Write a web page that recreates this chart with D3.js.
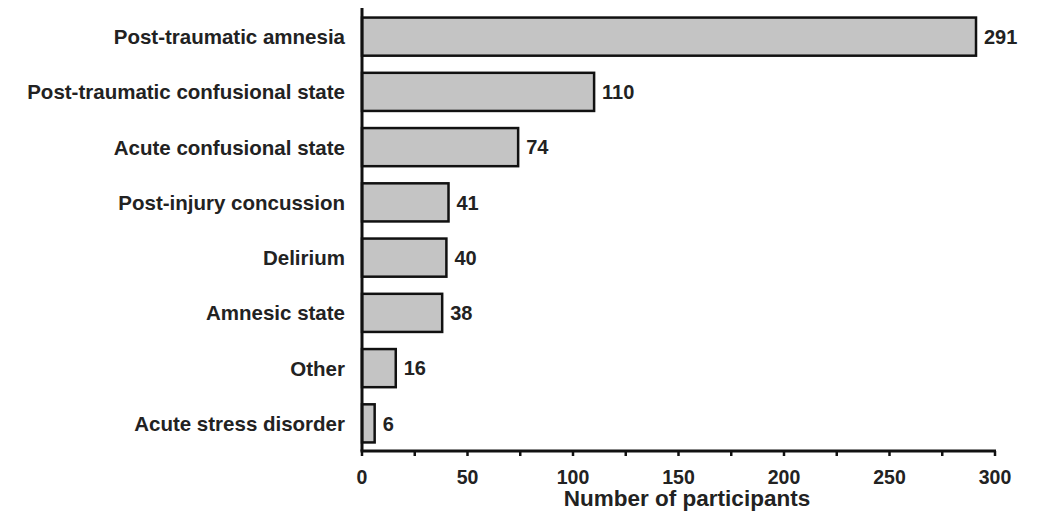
<!DOCTYPE html>
<html><head><meta charset="utf-8">
<script src="https://cdn.jsdelivr.net/npm/d3@7"></script>
<style>body{margin:0;background:#fff;} svg{display:block;}</style>
</head><body>
<svg id="chart" width="1043" height="513"></svg>
<script>
const categories = ["Post-traumatic amnesia","Post-traumatic confusional state","Acute confusional state","Post-injury concussion","Delirium","Amnesic state","Other","Acute stress disorder"];
const values = [291,110,74,41,40,38,16,6];
const xTickValues = [0,50,100,150,200,250,300];
const xMinorTicks = [25,75,125,175,225,275];
const xLabel = "Number of participants";

const svg = d3.select("#chart");
const font = "'Liberation Sans', Arial, sans-serif";
const x = d3.scaleLinear().domain([0,300]).range([362,995]);
const y = d3.scaleBand().domain(categories).range([9,451]).paddingInner(0.31).paddingOuter(0.155);

svg.selectAll("rect.bar").data(values).join("rect")
  .attr("class","bar")
  .attr("x", x(0))
  .attr("y",(d,i)=>y(categories[i]))
  .attr("width",d=>x(d)-x(0))
  .attr("height",y.bandwidth())
  .attr("fill","#c4c4c4").attr("stroke","#111").attr("stroke-width",2.5);

svg.selectAll("text.val").data(values).join("text")
  .attr("class","val")
  .attr("x",d=>x(d)+8)
  .attr("y",(d,i)=>y(categories[i])+y.bandwidth()/2)
  .attr("dy","0.36em")
  .attr("font-family",font).attr("font-weight","bold").attr("font-size",20)
  .attr("fill","#222")
  .text(d=>d);

svg.selectAll("text.cat").data(categories).join("text")
  .attr("class","cat")
  .attr("x",345)
  .attr("y",d=>y(d)+y.bandwidth()/2)
  .attr("dy","0.36em")
  .attr("text-anchor","end")
  .attr("font-family",font).attr("font-weight","bold").attr("font-size",20.5)
  .attr("fill","#222")
  .text(d=>d);

// y axis line
svg.append("line").attr("x1",x(0)).attr("x2",x(0)).attr("y1",8).attr("y2",451)
  .attr("stroke","#111").attr("stroke-width",3);

// x axis
const xAxis = svg.append("g").attr("transform","translate(0,451)");
xAxis.append("line").attr("x1",x(0)-1.5).attr("x2",x(300)+1).attr("y1",0).attr("y2",0)
  .attr("stroke","#111").attr("stroke-width",3);
xAxis.selectAll("line.tick").data(xTickValues.concat(xMinorTicks)).join("line")
  .attr("class","tick")
  .attr("x1",d=>x(d)).attr("x2",d=>x(d)).attr("y1",0).attr("y2",5)
  .attr("stroke","#111").attr("stroke-width",2.5);
xAxis.selectAll("text").data(xTickValues).join("text")
  .attr("x",d=>x(d)).attr("y",33)
  .attr("text-anchor","middle")
  .attr("font-family",font).attr("font-weight","bold").attr("font-size",19.5)
  .attr("fill","#222")
  .text(d=>d);

svg.append("text").attr("x",687).attr("y",506)
  .attr("text-anchor","middle")
  .attr("font-family",font).attr("font-weight","bold").attr("font-size",22.5)
  .attr("fill","#222")
  .text(xLabel);
</script>
</body></html>
